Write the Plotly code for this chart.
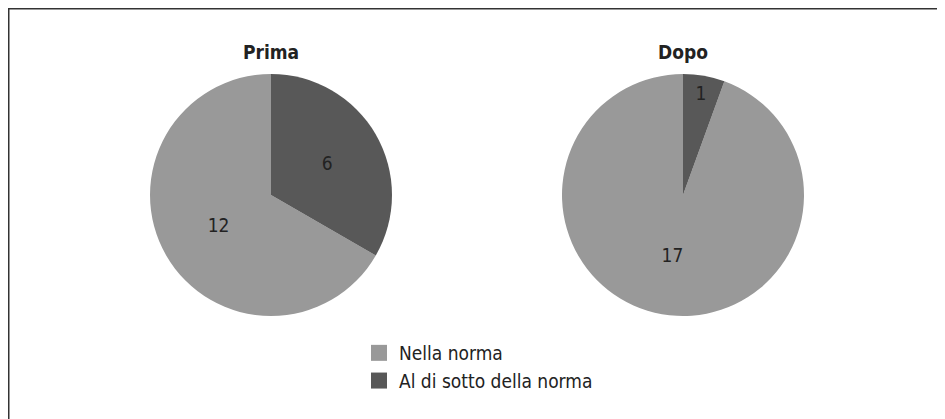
import plotly.graph_objects as go

labels = ["Nella norma", "Al di sotto della norma"]
prima = [12, 6]
dopo = [17, 1]
titles = ["Prima", "Dopo"]
colors = ["#999999", "#585858"]

FONT = "DejaVu Sans Condensed, DejaVu Sans, sans-serif"
# page shows the figure offset by 8px (body margin); work in reference coords
OFF = 8
W, H = 945 - OFF, 419 - OFF

def px(x):
    return (x - OFF) / W

def py(y):
    return 1 - (y - OFF) / H

fig = go.Figure()

def domain(cx, cy, r):
    return dict(x=[px(cx - r), px(cx + r)], y=[py(cy + r), py(cy - r)])

for i, (vals, cx) in enumerate([(prima, 271), (dopo, 683)]):
    rot = 360 * vals[1] / sum(vals)
    fig.add_trace(go.Pie(
        labels=labels, values=vals, sort=False, direction="clockwise",
        rotation=rot, marker=dict(colors=colors, line=dict(width=0)),
        textinfo="value", textposition="inside", insidetextorientation="horizontal",
        textfont=dict(family=FONT, size=19, color="#222222"),
        domain=domain(cx, 195, 121), showlegend=False, hoverinfo="label+value",
    ))
    fig.add_annotation(x=px(cx), y=py(52), xref="paper", yref="paper",
                       yanchor="middle", xanchor="center",
                       text="<b>%s</b>" % titles[i], showarrow=False,
                       font=dict(family=FONT, size=19, color="#222222"))

# legend entries
for lab, col in zip(labels, colors):
    fig.add_trace(go.Scatter(x=[None], y=[None], mode="markers", name=lab,
                             marker=dict(symbol="square", size=16, color=col),
                             showlegend=True, hoverinfo="skip"))

fig.add_shape(type="rect", xref="paper", yref="paper",
              x0=0.75 / W, x1=1.05, y0=-0.05, y1=1 - 0.75 / H,
              line=dict(color="#333333", width=1.5))

fig.update_layout(
    width=W, height=H, margin=dict(l=0, r=0, t=0, b=0),
    paper_bgcolor="white", plot_bgcolor="white",
    xaxis=dict(visible=False), yaxis=dict(visible=False),
    legend=dict(x=px(359), y=py(334), xanchor="left", yanchor="top",
                font=dict(family=FONT, size=19, color="#222222"),
                itemsizing="trace", tracegroupgap=0, bgcolor="rgba(0,0,0,0)"),
)

fig.write_html("out.html")
